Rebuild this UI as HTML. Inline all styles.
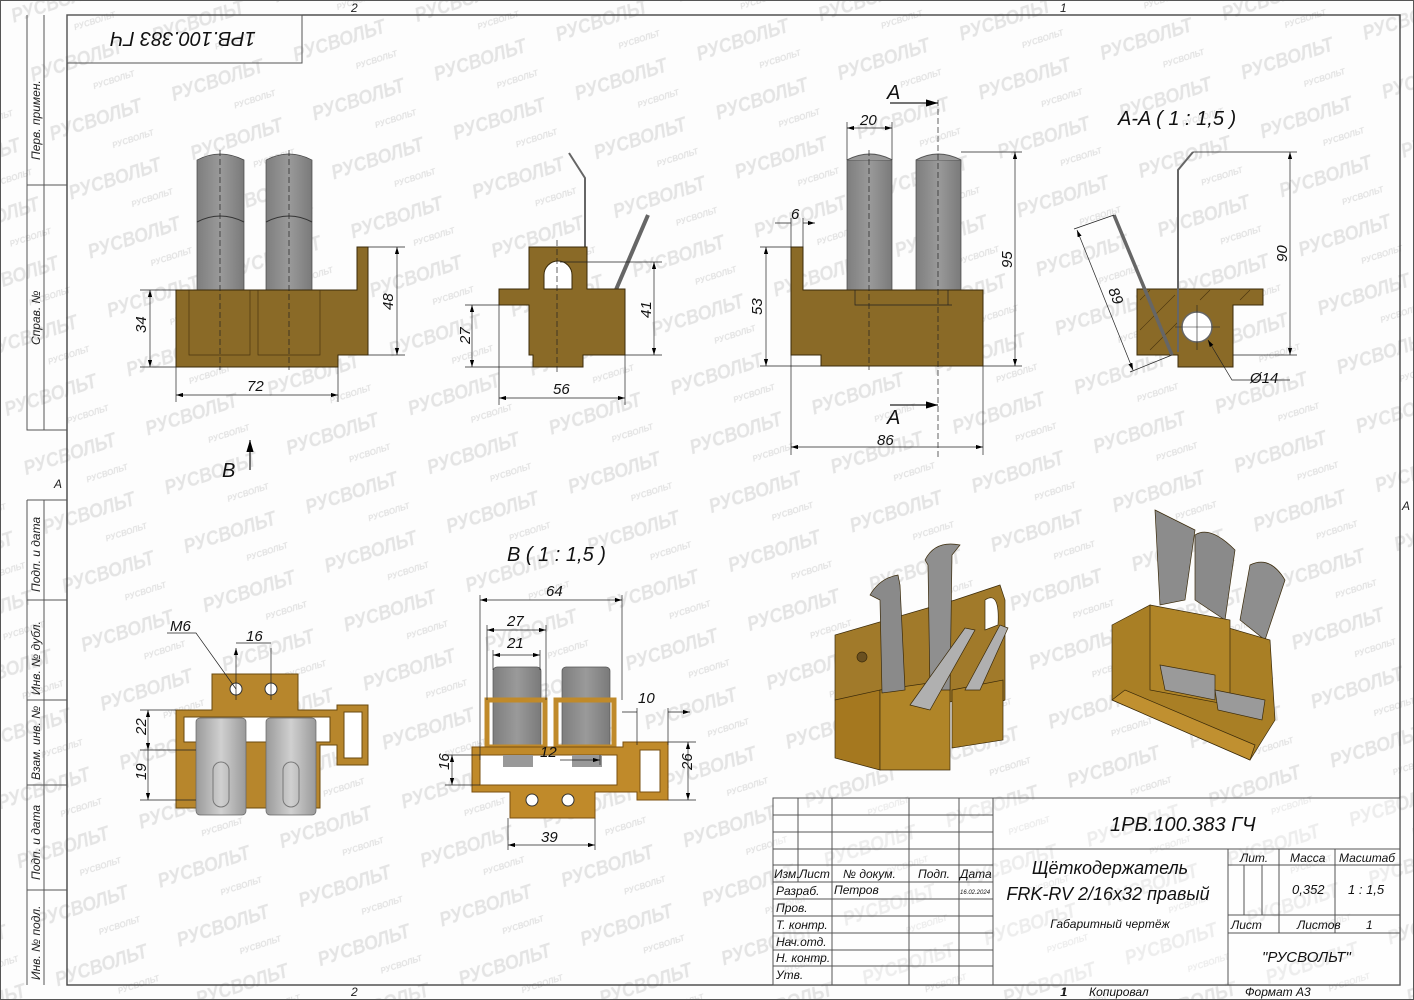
<!DOCTYPE html>
<html><head><meta charset="utf-8"><style>
html,body{margin:0;padding:0;background:#fff}
svg{display:block}
text{font-family:"Liberation Sans","DejaVu Sans",sans-serif;font-style:italic}
</style></head><body>
<svg width="1414" height="1000" viewBox="0 0 1414 1000" xmlns="http://www.w3.org/2000/svg">
<defs>
<pattern id="wm" width="128" height="62" patternUnits="userSpaceOnUse" patternTransform="rotate(-18)">
<text x="6" y="26" font-size="20" font-weight="bold" fill="#e4e4e4" textLength="96" lengthAdjust="spacingAndGlyphs" style="font-style:italic">РУСВОЛЬТ</text>
<text x="62" y="52" font-size="8" font-weight="bold" fill="#e2e2e2" style="font-style:italic">РУСВОЛЬТ</text>
</pattern>
<linearGradient id="gr" x1="0" x2="1"><stop offset="0" stop-color="#7e7e7e"/><stop offset=".5" stop-color="#9a9a9a"/><stop offset="1" stop-color="#7a7a7a"/></linearGradient>
<linearGradient id="gl" x1="0" x2="1"><stop offset="0" stop-color="#9a9a9a"/><stop offset=".5" stop-color="#d0d0d0"/><stop offset="1" stop-color="#9a9a9a"/></linearGradient>
<marker id="a" viewBox="0 0 10 6" refX="10" refY="3" markerWidth="10" markerHeight="6" orient="auto-start-reverse"><path d="M0,0L10,3L0,6z" fill="#000"/></marker>
</defs>
<rect width="1414" height="1000" fill="#fdfdfd"/>
<rect width="1414" height="1000" fill="url(#wm)"/>

<!-- frame -->
<g fill="none" stroke="#555" stroke-width="1">
<rect x="0.5" y="0.5" width="1413" height="999"/>
<rect x="67" y="15" width="1333" height="970" stroke="#444" stroke-width="1.4"/>
<rect x="67" y="15" width="235" height="48"/>
<path d="M27,15V430H67M44,15V430M27,185H67M27,500V985M44,500V985M27,500H67M27,600H67M27,700H67M27,785H67M27,890H67"/>
</g>
<g font-size="12" fill="#222">
<text transform="translate(40,160) rotate(-90)">Перв. примен.</text>
<text transform="translate(40,345) rotate(-90)">Справ. №</text>
<text transform="translate(40,592) rotate(-90)">Подп. и дата</text>
<text transform="translate(40,695) rotate(-90)">Инв. № дубл.</text>
<text transform="translate(40,780) rotate(-90)">Взам. инв. №</text>
<text transform="translate(40,880) rotate(-90)">Подп. и дата</text>
<text transform="translate(40,980) rotate(-90)">Инв. № подл.</text>
<text x="351" y="12">2</text><text x="1060" y="12">1</text>
<text x="351" y="996">2</text><text x="1060" y="996">1</text>
<text x="54" y="488">A</text><text x="1402" y="510">A</text>
</g>
<text transform="translate(183,39) rotate(180)" font-size="20" text-anchor="middle" fill="#111" dy="7">1РВ.100.383 ГЧ</text>

<!-- View 1 front -->
<g>
<path d="M197,290V160Q220,148 244,160V290z" fill="url(#gr)" stroke="#444" stroke-width=".7"/>
<path d="M266,290V160Q289,148 312,160V290z" fill="url(#gr)" stroke="#444" stroke-width=".7"/>
<path d="M197,222Q220,210 244,222M266,222Q289,210 312,222" stroke="#333" fill="none"/>
<path d="M176,290H357V247H368V355H338V367H176z" fill="#8a6a27" stroke="#3a2a0a"/>
<path d="M189,290V355H250V290M258,290V355H320V290" fill="none" stroke="#4a3510" stroke-width=".7"/>
<path d="M220,150V370M289,150V370" stroke="#222" stroke-dasharray="6,3" stroke-width=".7"/>
</g>
<!-- View 2 side -->
<g>
<path d="M569,153L585,178V290" fill="none" stroke="#666" stroke-width="2"/>
<path d="M648,215L615,292" stroke="#666" stroke-width="4"/>
<path d="M529,247H587V289H625V355H583V367H533V355H529V305H499V289H529z" fill="#8a6a27" stroke="#3a2a0a"/>
<path d="M544,289V275A14,14 0 0 1 572,275V289z" fill="#fff" stroke="#3a2a0a"/>
<path d="M557,240V375" stroke="#222" stroke-dasharray="6,3" stroke-width=".7"/>
</g>
<!-- View 3 -->
<g>
<rect x="847" y="160" width="45" height="130" fill="url(#gr)" stroke="#444" stroke-width=".7"/>
<rect x="916" y="160" width="45" height="130" fill="url(#gr)" stroke="#444" stroke-width=".7"/>
<path d="M847,160Q870,148 892,160M916,160Q938,148 961,160" stroke="#555" fill="#999"/>
<path d="M791,247H803V290H983V366H821V355H791z" fill="#8a6a27" stroke="#3a2a0a"/>
<path d="M855,290V305H948V290M857,305H952" fill="none" stroke="#222" stroke-width=".7"/>
<path d="M869,150V370M938,100V460" stroke="#222" stroke-dasharray="6,3" stroke-width=".7"/>
</g>
<!-- Section A-A -->
<g>
<path d="M1137,289H1263V305H1233V367H1178V355H1137z" fill="#8a6a27" stroke="#3a2a0a"/>
<path d="M1140,300L1150,290M1140,330L1175,295M1150,350L1178,322M1200,300L1210,290M1240,300L1250,290" stroke="#4a3510" stroke-width=".6"/>
<circle cx="1197" cy="327" r="15" fill="#fff" stroke="#666" stroke-width="1.5"/>
<path d="M1193,152L1178,170V352" fill="none" stroke="#666" stroke-width="2"/>
<path d="M1114,215L1172,355" stroke="#666" stroke-width="3.5"/>
<path d="M1175,327H1220M1197,305V350" stroke="#222" stroke-width=".6"/>
</g>

<!-- 3D left -->
<g stroke="#3a2a0a" stroke-width=".7">
<path d="M835,665L835,635L955,600L1000,585L1005,600L1005,700L960,720V700L880,715L835,700z" fill="#a17a2a"/>
<path d="M835,700L880,690L880,770L835,758z" fill="#a5781f"/>
<path d="M880,690L950,680L950,770L880,770z" fill="#b08528"/>
<path d="M952,690L1003,680L1003,740L952,748z" fill="#a97f25"/>
<path d="M870,595Q880,578 898,575L900,585L905,690L882,693L880,600z" fill="#8a8a8a"/>
<path d="M925,560Q935,540 960,545L952,555L950,690L930,690L928,565z" fill="#8f8f8f"/>
<path d="M910,705L965,628L975,630L930,710z" fill="#b0b0b0"/>
<path d="M965,690L1000,625L1008,628L980,690z" fill="#b0b0b0"/>
<path d="M985,600Q1000,590 998,625L985,630z" fill="#fff"/>
<circle cx="862" cy="657" r="5" fill="#6a5020"/>
</g>
<!-- 3D right -->
<g stroke="#3a2a0a" stroke-width=".7">
<path d="M1155,510L1195,530L1185,600L1160,605z" fill="#8c8c8c"/>
<path d="M1195,535Q1210,525 1235,550L1225,620L1195,600z" fill="#8a8a8a"/>
<path d="M1250,565Q1270,555 1285,580L1265,640L1240,620z" fill="#8e8e8e"/>
<path d="M1112,625L1150,605L1270,640L1275,720L1250,760L1112,700z" fill="#a97f25"/>
<path d="M1150,605L1230,620L1230,705L1150,690z" fill="#b08528"/>
<path d="M1160,665L1215,675L1215,700L1165,690z" fill="#9a9a9a"/>
<path d="M1215,690L1265,700L1262,720L1218,710z" fill="#9a9a9a"/>
<path d="M1112,700L1250,760L1255,745L1125,690z" fill="#c09030"/>
</g>

<!-- View B bottom-left -->
<g>
<path d="M212,674H298V710H337V705H368V765H337V745H320V808H176V710H212z" fill="#b7862c" stroke="#6a4a10"/>
<path d="M184,717H330V742H184z M344,712H362V758H344z" fill="#fff" stroke="#6a4a10"/>
<rect x="196" y="718" width="50" height="97" rx="4" fill="url(#gl)" stroke="#666" stroke-width=".7"/>
<rect x="266" y="718" width="50" height="97" rx="4" fill="url(#gl)" stroke="#666" stroke-width=".7"/>
<rect x="213" y="762" width="16" height="45" rx="8" fill="none" stroke="#777"/>
<rect x="283" y="762" width="16" height="45" rx="8" fill="none" stroke="#777"/>
<circle cx="236" cy="689" r="6" fill="#fff" stroke="#333"/><circle cx="271" cy="689" r="6" fill="#fff" stroke="#333"/>
</g>
<!-- View B 1:1.5 -->
<g>
<rect x="493" y="667" width="48" height="95" rx="4" fill="url(#gr)" stroke="#555" stroke-width=".7"/>
<rect x="562" y="667" width="48" height="95" rx="4" fill="url(#gr)" stroke="#555" stroke-width=".7"/>
<path d="M487,700H545V747H487z M556,700H614V747H556z" fill="none" stroke="#c08a2a" stroke-width="5"/>
<path d="M472,747H623V742H637V742H668V800H637V792H623V792H595V818H510V792H472z" fill="#c08a2a" stroke="#7a5010"/>
<rect x="480" y="755" width="137" height="30" fill="#fff" stroke="#7a5010"/>
<rect x="640" y="750" width="20" height="42" fill="#fff" stroke="#7a5010"/>
<rect x="503" y="755" width="30" height="12" fill="#999"/><rect x="572" y="755" width="30" height="12" fill="#999"/>
<circle cx="532" cy="800" r="6" fill="#fff" stroke="#333"/><circle cx="568" cy="800" r="6" fill="#fff" stroke="#333"/>
</g>

<!-- dimension lines -->
<g stroke="#222" stroke-width=".7" fill="none">
<path d="M150,290V367" marker-start="url(#a)" marker-end="url(#a)"/><path d="M140,290H176M140,367H176"/>
<path d="M397,247V355" marker-start="url(#a)" marker-end="url(#a)"/><path d="M368,247H405M368,355H405"/>
<path d="M176,395H338" marker-start="url(#a)" marker-end="url(#a)"/><path d="M176,367V402M338,367V402"/>
<path d="M472,305V367" marker-start="url(#a)" marker-end="url(#a)"/><path d="M465,305H499M465,367H533"/>
<path d="M654,262V355" marker-start="url(#a)" marker-end="url(#a)"/><path d="M560,262H662M625,355H662"/>
<path d="M499,398H625" marker-start="url(#a)" marker-end="url(#a)"/><path d="M499,305V405M625,355V405"/>
<path d="M847,128H892" marker-start="url(#a)" marker-end="url(#a)"/><path d="M847,122V160M892,122V160"/>
<path d="M775,223H791M803,223H815" marker-end="url(#a)"/><path d="M791,218V247M803,218V247"/>
<path d="M766,247V366" marker-start="url(#a)" marker-end="url(#a)"/><path d="M760,247H791M760,366H821"/>
<path d="M1015,152V366" marker-start="url(#a)" marker-end="url(#a)"/><path d="M961,152H1022M983,366H1022"/>
<path d="M791,447H983" marker-start="url(#a)" marker-end="url(#a)"/><path d="M791,355V455M983,366V455"/>
<path d="M890,103H938" marker-end="url(#a)" stroke-width="1.2"/><path d="M890,405H938" marker-end="url(#a)" stroke-width="1.2"/>
<path d="M1290,152V355" marker-start="url(#a)" marker-end="url(#a)"/><path d="M1193,152H1297M1233,355H1297"/>
<path d="M1077,230L1133,370" marker-start="url(#a)" marker-end="url(#a)"/><path d="M1114,215L1074,229M1172,355L1130,372"/>
<path d="M1208,340L1232,380H1290" marker-start="url(#a)"/>
<path d="M250,470V440" marker-end="url(#a)" stroke-width="1.2"/>
<path d="M167,633H196L236,689"/><path d="M236,648V700M271,648V700M236,643H271" marker-start="url(#a)"/>
<path d="M148,710V750" marker-start="url(#a)" marker-end="url(#a)"/><path d="M140,710H176"/>
<path d="M148,750V800" marker-end="url(#a)"/><path d="M140,750H196M140,800H196"/>
<path d="M480,600H622" marker-start="url(#a)" marker-end="url(#a)"/><path d="M480,595V760M622,595V700"/>
<path d="M487,630H546" marker-start="url(#a)" marker-end="url(#a)"/><path d="M487,625V700M546,625V700"/>
<path d="M493,655H540" marker-start="url(#a)" marker-end="url(#a)"/><path d="M493,650V670M540,650V670"/>
<path d="M622,712H637M668,712H690" marker-end="url(#a)"/><path d="M637,708V745M668,708V745"/>
<path d="M452,755V785" marker-start="url(#a)" marker-end="url(#a)"/><path d="M445,755H480M445,785H480"/>
<path d="M560,760H600" marker-end="url(#a)"/><path d="M600,755V765"/>
<path d="M688,742V800" marker-start="url(#a)" marker-end="url(#a)"/><path d="M668,742H696M668,800H696"/>
<path d="M508,845H595" marker-start="url(#a)" marker-end="url(#a)"/><path d="M508,818V850M595,818V850"/>
</g>
<g font-size="15" fill="#111">
<text transform="translate(146,333) rotate(-90)">34</text>
<text transform="translate(393,310) rotate(-90)">48</text>
<text x="247" y="391">72</text>
<text transform="translate(470,344) rotate(-90)">27</text>
<text transform="translate(651,318) rotate(-90)">41</text>
<text x="553" y="394">56</text>
<text x="860" y="125">20</text>
<text x="791" y="219">6</text>
<text transform="translate(762,315) rotate(-90)">53</text>
<text transform="translate(1012,268) rotate(-90)">95</text>
<text x="877" y="445">86</text>
<text x="887" y="99" font-size="20">A</text><text x="887" y="424" font-size="20">A</text>
<text x="1118" y="125" font-size="20">A-A ( 1 : 1,5 )</text>
<text transform="translate(1287,262) rotate(-90)">90</text>
<text transform="translate(1108,290) rotate(68)">89</text>
<text x="1250" y="383">Ø14</text>
<text x="222" y="477" font-size="20">B</text>
<text x="170" y="631">M6</text><text x="246" y="641">16</text>
<text transform="translate(146,735) rotate(-90)">22</text>
<text transform="translate(146,780) rotate(-90)">19</text>
<text x="507" y="561" font-size="20">B ( 1 : 1,5 )</text>
<text x="546" y="596">64</text><text x="507" y="626">27</text><text x="507" y="648">21</text>
<text x="638" y="703">10</text>
<text transform="translate(449,770) rotate(-90)">16</text>
<text x="540" y="757">12</text>
<text transform="translate(692,770) rotate(-90)">26</text>
<text x="541" y="842">39</text>
</g>

<!-- title block -->
<g stroke="#555" stroke-width="1" fill="none">
<rect x="773" y="798" width="627" height="187" fill="rgba(255,255,255,0.35)"/>
<path d="M773,815H993M773,832H993M773,849H993M773,865H993M773,882H993M773,899H993M773,916H993M773,933H993M773,950H993M773,966H993"/>
<path d="M798,798V882M832,798V985M909,798V985M959,798V985M993,798V985"/>
<path d="M993,849H1400M1228,865H1400M1228,915H1400M1228,933H1400M1228,849V985M1244,865V915M1262,865V915M1279,849V933M1335,849V915M1335,915V933"/>
</g>
<g fill="#111">
<text x="1110" y="831" font-size="20">1РВ.100.383 ГЧ</text>
<text x="1110" y="874" font-size="18" text-anchor="middle">Щёткодержатель</text>
<text x="1108" y="900" font-size="18" text-anchor="middle">FRK-RV 2/16x32 правый</text>
<text x="1110" y="928" font-size="12" text-anchor="middle">Габаритный чертёж</text>
<text x="1240" y="862" font-size="12">Лит.</text><text x="1290" y="862" font-size="12">Масса</text><text x="1339" y="862" font-size="12">Масштаб</text>
<text x="1292" y="894" font-size="13">0,352</text><text x="1348" y="894" font-size="13">1 : 1,5</text>
<text x="1231" y="929" font-size="12">Лист</text><text x="1297" y="929" font-size="12">Листов</text><text x="1366" y="929" font-size="12">1</text>
<text x="1262" y="962" font-size="15">"РУСВОЛЬТ"</text>
<g font-size="12"><text x="774" y="878">Изм.</text><text x="799" y="878">Лист</text><text x="843" y="878">№ докум.</text><text x="918" y="878">Подп.</text><text x="960" y="878">Дата</text>
<text x="776" y="895">Разраб.</text><text x="834" y="894">Петров</text><text x="960" y="894" font-size="6">16.02.2024</text>
<text x="776" y="912">Пров.</text><text x="776" y="929">Т. контр.</text><text x="776" y="946">Нач.отд.</text><text x="776" y="962">Н. контр.</text><text x="776" y="979">Утв.</text>
<text x="1061" y="996">1</text><text x="1089" y="996">Копировал</text><text x="1245" y="996">Формат А3</text></g>
</g>
</svg>
</body></html>
